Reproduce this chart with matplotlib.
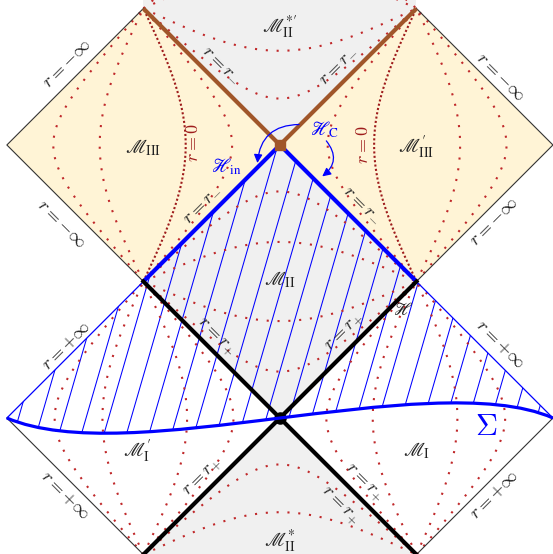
import numpy as np
import matplotlib
matplotlib.use("Agg")
import matplotlib.pyplot as plt
from matplotlib.path import Path
from matplotlib.patches import Polygon, PathPatch, FancyArrowPatch

plt.rcParams["mathtext.fontset"] = "cm"

# ---- constant-r curve offsets (mid-point offset within each diamond) ----
m1_offsets = [-0.66, -0.32, 0.30, 0.65]          # region I
m1p_offsets = [-0.65, -0.30, 0.32, 0.66]         # region I'
m3_offsets = [-0.66, -0.32, 0.65]                # region III
m3_r0 = 0.31                                     # r = 0 in region III
m3p_offsets = [-0.65, 0.32, 0.66]                # region III'
m3p_r0 = -0.31                                   # r = 0 in region III'
m2_offsets = [-0.66, -0.29, 0.29, 0.66]          # region II
m2s_offsets = [-0.66, -0.31, 0.31, 0.66]         # region II* (bottom)
m2sp_offsets = [-0.66, -0.31, 0.31, 0.66]        # region II*' (top)

# Cauchy surface Sigma: two cubic Bezier segments (control points)
sigma_left = [(-2.0, 0.0), (-1.55, -0.19), (-0.8, -0.10), (0.0, 0.0)]
sigma_right = [(0.0, 0.0), (0.7, 0.085), (1.55, 0.20), (2.0, 0.0)]

GRAY = "#f0f0f0"
CREAM = "#fff4d6"
DOT = "#c0282a"
R0 = "#9e1b1b"
BROWN = "#a0562a"
BLUE = "#0000ff"

fig = plt.figure(figsize=(5.53, 5.54), dpi=100)
ax = fig.add_axes([0, 0, 1, 1])
ax.set_xlim(-2.05, 2.0)
ax.set_ylim(-0.996, 3.062)
ax.set_aspect("equal")
ax.axis("off")


def diamond(cx, cy):
    return [(cx - 1, cy), (cx, cy + 1), (cx + 1, cy), (cx, cy - 1)]


# ---- region fills ----
for cx, cy, col in [(0, 1, GRAY), (0, -1, GRAY), (0, 3, GRAY),
                    (-1, 2, CREAM), (1, 2, CREAM),
                    (1, 0, "white"), (-1, 0, "white")]:
    ax.add_patch(Polygon(diamond(cx, cy), closed=True, fc=col, ec="none", zorder=0))
# extend the gray strips beyond the top and bottom vertices
ax.add_patch(Polygon([(-1, 3), (1, 3), (1, 3.2), (-1, 3.2)], fc=GRAY, ec="none", zorder=0))
ax.add_patch(Polygon([(-1, -1), (1, -1), (1, -1.2), (-1, -1.2)], fc=GRAY, ec="none", zorder=0))

# ---- hatched domain of dependence above Sigma ----
verts = sigma_left + sigma_right[1:] + [(1, 1), (0, 2), (-1, 1), (-2, 0)]
codes = ([Path.MOVETO] + [Path.CURVE4] * 6 + [Path.LINETO] * 3 + [Path.CLOSEPOLY])
dom = PathPatch(Path(verts, codes), fc="none", ec="none", transform=ax.transData)
ax.add_patch(dom)
yy = np.array([-0.5, 2.5])
for k in range(-20, 20):
    x0 = -0.10 + 0.165 * k
    ln, = ax.plot(x0 + 0.29 * yy, yy, color=BLUE, lw=0.75, zorder=1)
    ln.set_clip_path(dom)


# ---- constant-r curves ----
def rcurve(s0, n=700):
    c = np.tan(np.pi / 4 * (1 + s0)) ** 2
    a = np.linspace(1e-5, np.pi / 2 - 1e-5, n)
    b = np.arctan(c / np.tan(a))
    s = 2 * (a + b) / np.pi - 1
    t = 2 * (a - b) / np.pi
    return s, t


def draw_r(cx, cy, s0, vertical=True, dense=False):
    s, t = rcurve(s0)
    if vertical:
        x, y = cx + s, cy + t
    else:
        x, y = cx + t, cy + s
    if dense:
        ax.plot(x, y, color=R0, lw=1.5, ls=(0, (1, 1.1)), zorder=2)
    else:
        ax.plot(x, y, color=DOT, lw=1.5, ls=(0, (1, 4.2)), zorder=2)


for s0 in m1_offsets:
    draw_r(1, 0, s0)
for s0 in m1p_offsets:
    draw_r(-1, 0, s0)
for s0 in m3_offsets:
    draw_r(-1, 2, s0)
draw_r(-1, 2, m3_r0, dense=True)
for s0 in m3p_offsets:
    draw_r(1, 2, s0)
draw_r(1, 2, m3p_r0, dense=True)
for s0 in m2_offsets:
    draw_r(0, 1, s0, vertical=False)
for s0 in m2s_offsets:
    draw_r(0, -1, s0, vertical=False)
for s0 in m2sp_offsets:
    draw_r(0, 3, s0, vertical=False)

# ---- boundaries ----
thin = dict(color="#333333", lw=0.8, zorder=3)
ax.plot([-1, -2, -1], [3, 2, 1], **thin)
ax.plot([1, 2, 1], [3, 2, 1], **thin)
ax.plot([-2, -1], [0, -1], **thin)
ax.plot([2, 1], [0, -1], **thin)
ax.plot([-2, -1], [0, 1], color=BLUE, lw=0.9, zorder=3)
ax.plot([2, 1], [0, 1], color=BLUE, lw=0.9, zorder=3)

ax.plot([-1, 0, 1], [3, 2, 3], color=BROWN, lw=3.0, zorder=4, solid_capstyle="butt")
ax.plot([-1, 0, 1], [1, 2, 1], color=BLUE, lw=3.0, zorder=4, solid_capstyle="butt")
ax.plot([-1, 1], [1, -1], color="black", lw=3.0, zorder=4)
ax.plot([-1, 1], [-1, 1], color="black", lw=3.0, zorder=4)
ax.plot([0], [2], marker="s", ms=7, color=BROWN, zorder=5)
ax.plot([0], [0], marker="o", ms=8, color="black", zorder=5)

# Sigma
sig = Path(sigma_left + sigma_right[1:], [Path.MOVETO] + [Path.CURVE4] * 6)
ax.add_patch(PathPatch(sig, fc="none", ec=BLUE, lw=2.3, zorder=6))

# ---- arrows from the horizon label ----
ax.add_patch(FancyArrowPatch((0.14, 2.15), (-0.165, 1.868), connectionstyle="arc3,rad=0.45",
                             arrowstyle="-|>,head_length=5,head_width=2.5", color=BLUE,
                             lw=0.9, zorder=7, shrinkA=0, shrinkB=0))
ax.add_patch(FancyArrowPatch((0.34, 2.03), (0.31, 1.77), connectionstyle="arc3,rad=-0.5",
                             arrowstyle="-|>,head_length=5,head_width=2.5", color=BLUE,
                             lw=0.9, zorder=7, shrinkA=0, shrinkB=0))

# ---- labels ----
TXT = "#222222"


def lab(x, y, s, rot=0, size=13, color=TXT, script=False):
    kw = dict(rotation=rot, rotation_mode="anchor", ha="center", va="center",
              fontsize=size, color=color, zorder=8)
    if script:
        kw["math_fontfamily"] = "stix"
    ax.text(x, y, s, **kw)


lab(-1.56, 2.60, r"$r=-\infty$", 45)
lab(-1.60, 1.42, r"$r=-\infty$", -45)
lab(1.62, 2.50, r"$r=-\infty$", -45)
lab(1.57, 1.44, r"$r=-\infty$", 45)
lab(-0.41, 2.60, r"$r=r_{-}$", -45)
lab(0.41, 2.60, r"$r=r_{-}$", 45)
lab(-0.64, 2.02, r"$r=0$", 90, color=R0)
lab(0.61, 2.0, r"$r=0$", 90, color=R0)
lab(-0.59, 1.58, r"$r=r_{-}$", 45)
lab(0.62, 1.58, r"$r=r_{-}$", -45)
lab(-0.39, 1.84, r"$\mathscr{H}_{\mathrm{in}}$", size=13.5, color=BLUE, script=True)
lab(0.33, 2.11, r"$\mathscr{H}_{\mathrm{C}}$", size=13.5, color=BLUE, script=True)
lab(-1.0, 1.98, r"$\mathscr{M}_{\mathrm{III}}$", size=14, script=True)
lab(1.0, 1.98, r"$\mathscr{M}^{\prime}_{\mathrm{III}}$", size=14, script=True)
lab(0.0, 1.01, r"$\mathscr{M}_{\mathrm{II}}$", size=14, script=True)
lab(0.0, 2.86, r"$\mathscr{M}^{*\prime}_{\mathrm{II}}$", size=14, script=True)
lab(0.0, -0.9, r"$\mathscr{M}^{*}_{\mathrm{II}}$", size=14, script=True)
lab(-1.045, -0.24, r"$\mathscr{M}^{\prime}_{\mathrm{I}}$", size=14, script=True)
lab(1.0, -0.24, r"$\mathscr{M}_{\mathrm{I}}$", size=14, script=True)
lab(1.51, -0.06, r"$\Sigma$", size=22, color=BLUE)
lab(0.9, 0.79, r"$\mathscr{H}$", size=13, script=True)
lab(-1.57, 0.53, r"$r=+\infty$", 45)
lab(1.62, 0.54, r"$r=+\infty$", -45)
lab(-1.57, -0.56, r"$r=+\infty$", -45)
lab(1.57, -0.56, r"$r=+\infty$", 45)
lab(-0.47, 0.60, r"$r=r_{+}$", -45)
lab(0.47, 0.63, r"$r=r_{+}$", 45)
lab(-0.57, -0.43, r"$r=r_{+}$", 45)
lab(0.62, -0.47, r"$r=r_{+}$", -45)
lab(0.44, -0.64, r"$r=r_{+}$", -45)

fig.savefig("out.png", dpi=100)
